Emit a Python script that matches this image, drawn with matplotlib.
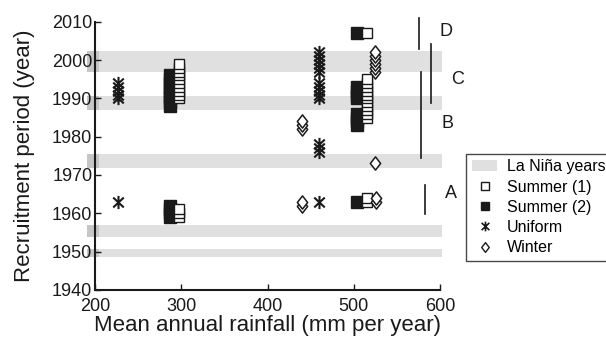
import numpy as np
import matplotlib
matplotlib.use("Agg")
import matplotlib.pyplot as plt
from matplotlib.path import Path
from matplotlib.patches import Patch
from matplotlib.lines import Line2D

plt.rcParams['font.family'] = ['Liberation Sans', 'DejaVu Sans']

# La Nina bands (start year, end year)
nina_start = [1996.9, 1987.0, 1971.9, 1953.7, 1948.5]
nina_end = [2002.4, 1990.6, 1975.5, 1957.0, 1950.8]

# Summer (1): open squares
s1_x = [297] * 10 + [297] * 3 + [515] * 11 + [515, 515] + [515]
s1_years = list(range(1990, 2000)) + [1959, 1960, 1961] + list(range(1985, 1996)) + [1963, 1964] + [2007]

# Summer (2): filled squares
s2_x = [287] * 9 + [287] * 4 + [504] * 4 + [504] * 4 + [504, 504]
s2_years = list(range(1988, 1997)) + [1959, 1960, 1961, 1962] + list(range(1983, 1987)) + list(range(1990, 1994)) + [1963, 2007]

# Uniform
u_x = [227] * 5 + [227] + [460] * 5 + [460] * 6 + [460] * 3 + [460]
u_years = list(range(1990, 1995)) + [1963] + list(range(1990, 1995)) + list(range(1997, 2003)) + [1976, 1977, 1978] + [1963]

# Winter
w_x = [440] * 3 + [440, 440] + [525] * 6 + [525] + [526, 526]
w_years = [1982, 1983, 1984] + [1962, 1963] + list(range(1997, 2003)) + [1973] + [1963, 1964]

# period brackets
brk_labels = ['A', 'B', 'C', 'D']
brk_x = [583, 578, 590, 576]
brk_lo = [1959.8, 1974.4, 1988.7, 2002.8]
brk_hi = [1967.3, 1997.0, 2004.1, 2010.9]
lab_x = [606, 602, 613, 600]
lab_y = [1965.3, 1983.5, 1995.0, 2007.4]

uniform_marker = Path([(0, -1), (0, 1), (-0.8, -0.75), (0.8, 0.75), (-0.8, 0.75), (0.8, -0.75)],
                      [Path.MOVETO, Path.LINETO, Path.MOVETO, Path.LINETO, Path.MOVETO, Path.LINETO])
winter_marker = Path([(0, 1), (0.78, 0), (0, -1), (-0.78, 0), (0, 1)],
                     [Path.MOVETO, Path.LINETO, Path.LINETO, Path.LINETO, Path.CLOSEPOLY])

fig = plt.figure(figsize=(6.06, 3.44), dpi=100)
ax = fig.add_axes([0.157, 0.157, 0.569, 0.78])

light = '#e0e0e0'
dark = '#c6c6c6'
for lo, hi in zip(nina_start, nina_end):
    ax.fill_between([191, 602], lo, hi, color=light, lw=0, zorder=0, clip_on=False)
    ax.fill_between([191, 205], lo, hi, color=dark, lw=0, zorder=0.5, clip_on=False)

ax.plot(s2_x, s2_years, 's', ls='none', ms=8.5, mfc='#1a1a1a', mec='#1a1a1a', mew=1, zorder=3)
ax.plot(s1_x, s1_years, 's', ls='none', ms=7.8, mfc='white', mec='#1a1a1a', mew=1, zorder=3)
ax.plot(u_x, u_years, marker=uniform_marker, ls='none', ms=9.5, mec='#1a1a1a', mew=1.5, zorder=3)
ax.plot(w_x, w_years, marker=winter_marker, ls='none', ms=9.5, mfc='white', mec='#1a1a1a', mew=1.1, zorder=3)

for x, lo, hi in zip(brk_x, brk_lo, brk_hi):
    ax.plot([x, x], [lo, hi], color='#1a1a1a', lw=1.2, clip_on=False, zorder=4)
for t, x, y in zip(brk_labels, lab_x, lab_y):
    ax.text(x, y, t, fontsize=13, ha='left', va='center', color='#1a1a1a', clip_on=False)

ax.set_xlim(200, 600)
ax.set_ylim(1940, 2010)
ax.set_xticks([200, 300, 400, 500, 600])
ax.set_yticks(np.arange(1940, 2011, 10))
ax.spines['top'].set_visible(False)
ax.spines['right'].set_visible(False)
for s in ['left', 'bottom']:
    ax.spines[s].set_linewidth(1.5)
    ax.spines[s].set_color('#1a1a1a')
ax.tick_params(direction='in', length=4, width=1, labelsize=13, colors='#1a1a1a', pad=2)
ax.tick_params(axis='x', pad=6)
ax.set_xlabel('Mean annual rainfall (mm per year)', fontsize=16, labelpad=0, color='#1a1a1a')
ax.set_ylabel('Recruitment period (year)', fontsize=16, labelpad=12, color='#1a1a1a')

handles = [Patch(facecolor=light, edgecolor='none'),
           Line2D([], [], marker='s', ls='none', ms=5.5, mfc='white', mec='#1a1a1a', mew=1),
           Line2D([], [], marker='s', ls='none', ms=6, mfc='#1a1a1a', mec='#1a1a1a'),
           Line2D([], [], marker=uniform_marker, ls='none', ms=7, mec='#1a1a1a', mew=1.2),
           Line2D([], [], marker=winter_marker, ls='none', ms=7, mfc='white', mec='#1a1a1a', mew=1)]
labels = ['La Niña years', 'Summer (1)', 'Summer (2)', 'Uniform', 'Winter']
leg = ax.legend(handles, labels, loc='upper left', bbox_to_anchor=(1.076, 0.508), fontsize=11.5,
                frameon=True, fancybox=False, edgecolor='#1a1a1a', handlelength=1.6,
                handletextpad=0.6, labelspacing=0.33, borderpad=0.35, borderaxespad=0)
leg.get_frame().set_linewidth(1)

fig.savefig('out.png', dpi=100)
